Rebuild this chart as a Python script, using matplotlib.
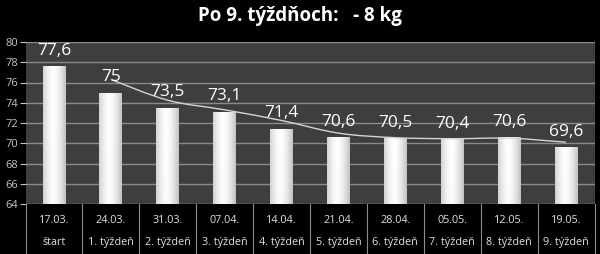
import numpy as np
import matplotlib
matplotlib.use("Agg")
import matplotlib.pyplot as plt
from matplotlib.path import Path
from matplotlib.patches import PathPatch

dates = ["17.03.", "24.03.", "31.03.", "07.04.", "14.04.", "21.04.", "28.04.", "05.05.", "12.05.", "19.05."]
weeks = ["štart", "1. týždeň", "2. týždeň", "3. týždeň", "4. týždeň", "5. týždeň",
         "6. týždeň", "7. týždeň", "8. týždeň", "9. týždeň"]
weights = [77.6, 75, 73.5, 73.1, 71.4, 70.6, 70.5, 70.4, 70.6, 69.6]
trend = [None, 76.3, 74.25, 73.3, 72.25, 71.0, 70.55, 70.45, 70.5, 70.1]
title = "Po 9. týždňoch:   - 8 kg"

plt.rcParams['font.family'] = ['Open Sans', 'DejaVu Sans']

fig = plt.figure(figsize=(6.0, 2.54), dpi=100, facecolor='black')
ax = fig.add_axes([25.5/600, 1-204/254, 569/600, 162/254])
ax.set_facecolor('#3e3e3e')
ax.set_xlim(-0.5, len(weights)-0.5)
ax.set_ylim(64, 80)
ax.set_yticks(range(64, 81, 2))
ax.yaxis.grid(True, color='#8a8a8a', lw=1.0)
ax.set_axisbelow(True)
for s in ax.spines.values():
    s.set_visible(False)
ax.tick_params(axis='y', colors='#c4c4c4', labelsize=8, length=4, width=0.8, pad=1)
ax.tick_params(axis='x', length=0, labelbottom=False)

# gradient bars
bw = 0.4
xs = np.linspace(0, 1, 64)
hprof = 1 - 0.28*np.abs(xs - 0.45)**1.6*2.2
vprof = np.linspace(0.85, 1.0, 64)[:, None]
grad = np.clip(hprof[None, :]*(0.9 + 0.1*vprof), 0, 1)
for i, w in enumerate(weights):
    rect = plt.Rectangle((i-bw/2, 64), bw, w-64, facecolor='none', edgecolor='none')
    ax.add_patch(rect)
    im = ax.imshow(grad, cmap='gray', vmin=0, vmax=1, extent=(i-bw/2, i+bw/2, 64, w),
                   aspect='auto', origin='lower', zorder=2, interpolation='bilinear')
    im.set_clip_path(rect)
    ax.text(i, w+0.75, f"{w}".replace('.', ','), ha='center', va='bottom',
            color='white', fontsize=12.5, zorder=4)

# smoothed trend line (Catmull-Rom -> Bezier)
pts = [(i, v) for i, v in enumerate(trend) if v is not None]
P = np.array(pts, dtype=float)
verts = [tuple(P[0])]
codes = [Path.MOVETO]
for k in range(len(P)-1):
    p0 = P[k-1] if k > 0 else P[k]
    p1, p2 = P[k], P[k+1]
    p3 = P[k+2] if k+2 < len(P) else P[k+1]
    c1 = p1 + (p2 - p0)/6
    c2 = p2 - (p3 - p1)/6
    verts += [tuple(c1), tuple(c2), tuple(p2)]
    codes += [Path.CURVE4]*3
ax.add_patch(PathPatch(Path(verts, codes), facecolor='none', edgecolor='#d4d4d4', lw=1.0, zorder=3))

ax.set_ylim(64, 80)
ax.set_xlim(-0.5, len(weights)-0.5)

# category axis table
tr = ax.get_xaxis_transform()
for k in range(len(weights)+1):
    ax.plot([k-0.5, k-0.5], [0, -0.3], transform=tr, color='#8c8c8c', lw=0.8, clip_on=False)
for i in range(len(weights)):
    ax.text(i, -0.1, dates[i], transform=tr, ha='center', va='center', color='#e0e0e0', fontsize=7.8)
    ax.text(i, -0.24, weeks[i], transform=tr, ha='center', va='center', color='#e0e0e0', fontsize=7.8)

fig.text(0.5, 1-16/254, title, ha='center', va='center', color='white', fontsize=13.5, fontweight='bold')

fig.savefig('out.png', dpi=100, facecolor='black')
